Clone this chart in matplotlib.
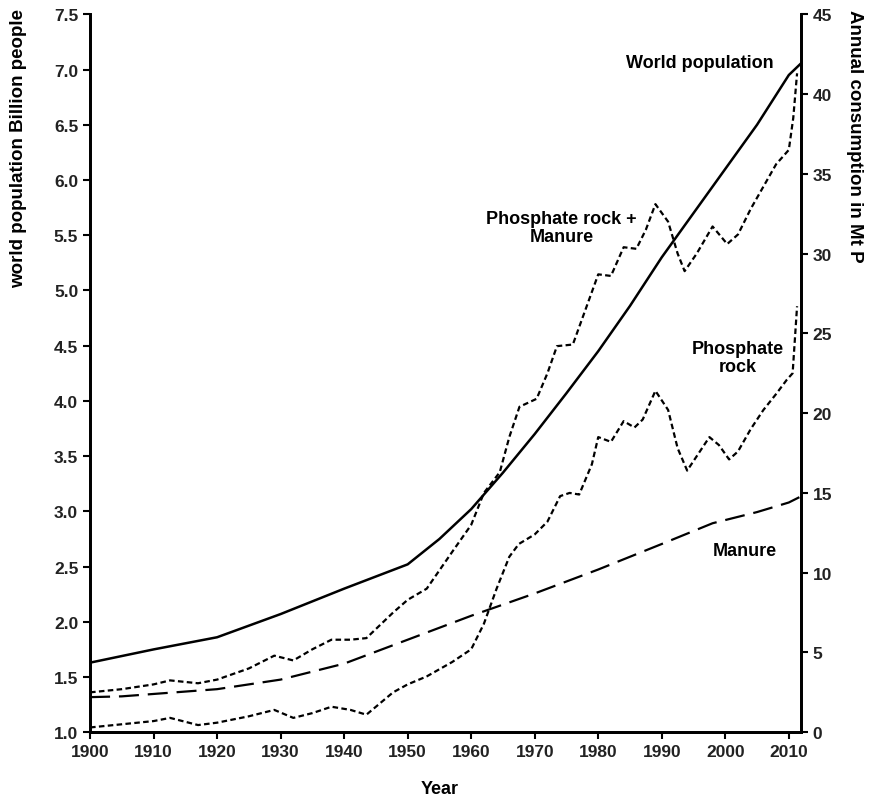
import matplotlib.pyplot as plt
from matplotlib.ticker import FormatStrFormatter

plt.rcParams['font.family'] = ['Liberation Sans', 'DejaVu Sans']

# world population, billion people (left axis)
pop_years = [1900, 1910, 1920, 1930, 1940, 1950, 1955, 1960, 1965, 1970, 1975,
             1980, 1985, 1990, 1995, 2000, 2005, 2010, 2012]
pop_values = [1.63, 1.75, 1.86, 2.07, 2.30, 2.52, 2.75, 3.02, 3.35, 3.70, 4.07,
              4.45, 4.86, 5.30, 5.70, 6.10, 6.50, 6.95, 7.06]

# manure, Mt P (right axis)
man_years = [1900, 1905, 1910, 1920, 1930, 1940, 1950, 1960, 1970, 1980,
             1990, 1998, 2005, 2010, 2012]
man_values = [2.2, 2.25, 2.4, 2.7, 3.3, 4.3, 5.8, 7.3, 8.7, 10.2, 11.8,
              13.1, 13.8, 14.4, 14.8]

# phosphate rock, Mt P
pr_years = [1900, 1905, 1910, 1912.6, 1917, 1920, 1925, 1929, 1932, 1935, 1938,
            1941, 1943.5, 1947.7, 1950, 1953, 1957, 1960, 1962, 1964, 1966, 1967.5,
            1970, 1972, 1974, 1975.5, 1977, 1979, 1980, 1982, 1984, 1985.7, 1987,
            1989, 1991, 1992.5, 1994, 1996, 1997.5, 1999, 2000.6, 2002, 2004,
            2006, 2008, 2009.7, 2010.6, 2011.3]
pr_values = [0.3, 0.5, 0.7, 0.9, 0.45, 0.6, 1.0, 1.4, 0.9, 1.2, 1.6,
             1.4, 1.1, 2.5, 3.0, 3.5, 4.4, 5.2, 6.8, 9.0, 11.0, 11.8,
             12.4, 13.2, 14.8, 15.0, 14.9, 16.8, 18.5, 18.2, 19.5, 19.1, 19.6,
             21.4, 20.2, 17.8, 16.4, 17.6, 18.5, 18.0, 17.1, 17.6, 19.0,
             20.2, 21.2, 22.1, 22.5, 26.7]

# phosphate rock + manure, Mt P
pm_years = [1900, 1905, 1910, 1912.6, 1917, 1920, 1925, 1929, 1932, 1935, 1938,
            1941, 1943.5, 1947.7, 1950, 1953, 1957, 1960, 1962, 1964.5, 1966,
            1967.6, 1970.3, 1972, 1973.5, 1976, 1978, 1980, 1982, 1984, 1986,
            1987.5, 1989, 1991, 1992.5, 1993.6, 1995.5, 1998, 2000.3, 2002,
            2004, 2006, 2008, 2010, 2010.7, 2011.3]
pm_values = [2.5, 2.7, 3.0, 3.25, 3.07, 3.3, 4.0, 4.8, 4.5, 5.2, 5.8,
             5.8, 5.9, 7.5, 8.3, 9.0, 11.3, 13.0, 15.0, 16.3, 18.5,
             20.4, 20.9, 22.5, 24.2, 24.3, 26.5, 28.7, 28.6, 30.4, 30.3,
             31.5, 33.1, 32.0, 30.0, 28.9, 30.0, 31.7, 30.6, 31.2,
             32.8, 34.2, 35.6, 36.5, 38.5, 41.3]

xticks = list(range(1900, 2011, 10))

fig = plt.figure(figsize=(8.83, 8.04), dpi=100)
ax = fig.add_axes([0.102, 0.088, 0.805, 0.893])
ax2 = ax.twinx()

ax.plot(pop_years, pop_values, color='black', lw=1.8)
ax2.plot(man_years, man_values, color='black', lw=1.6, dashes=(9, 4))
ax2.plot(pr_years, pr_values, color='black', lw=1.6, dashes=(2.5, 1.5))
ax2.plot(pm_years, pm_values, color='black', lw=1.6, dashes=(2.5, 1.5))

ax.set_xlim(1900, 2011.9)
ax.set_ylim(1.0, 7.5)
ax2.set_ylim(0, 45)
ax.set_xticks(xticks)
ax.set_yticks([1.0 + 0.5 * i for i in range(14)])
ax2.set_yticks(range(0, 46, 5))
ax.yaxis.set_major_formatter(FormatStrFormatter('%.1f'))

for a in (ax, ax2):
    a.spines['top'].set_visible(False)
    for s in ('left', 'right', 'bottom'):
        a.spines[s].set_linewidth(2)
    a.tick_params(width=1.5, length=5, labelsize=12.5)
    for lab in a.get_xticklabels() + a.get_yticklabels():
        lab.set_fontweight('bold')
        lab.set_color('#222222')

# labels on the lines
ax2.text(1996, 42.0, 'World population', ha='center', va='center',
         fontsize=13, fontweight='bold')
ax2.text(1974.2, 31.65, 'Phosphate rock +\nManure', ha='center', va='center',
         fontsize=13, fontweight='bold', linespacing=1.1)
ax2.text(2001.9, 23.5, 'Phosphate\nrock', ha='center', va='center',
         fontsize=13, fontweight='bold', linespacing=1.1)
ax2.text(2003, 11.4, 'Manure', ha='center', va='center',
         fontsize=13, fontweight='bold')

fig.text(0.498, 0.018, 'Year', ha='center', va='center', fontsize=13, fontweight='bold')
fig.text(0.021, 0.815, 'world population Billion people', ha='center', va='center',
         rotation=90, fontsize=13.5, fontweight='bold')
fig.text(0.968, 0.83, 'Annual consumption in Mt P', ha='center', va='center',
         rotation=-90, fontsize=13.5, fontweight='bold')

plt.savefig('out.png', dpi=100)
